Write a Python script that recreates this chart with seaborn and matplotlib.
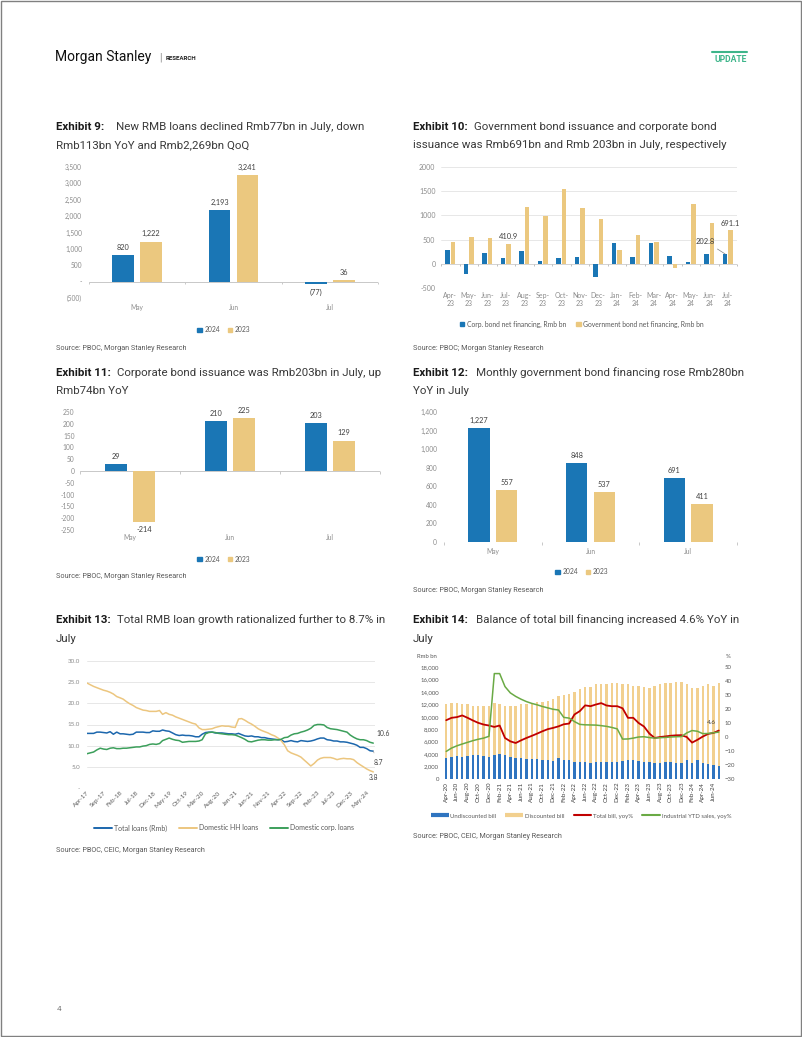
import numpy as np
import pandas as pd
import matplotlib
matplotlib.use("Agg")
import matplotlib.pyplot as plt
from matplotlib.patches import Patch, Rectangle
from matplotlib.lines import Line2D
import seaborn as sns

W, H = 802, 1037

BLUE = "#1A76B5"
TAN = "#EBC87F"
BLUE_LINE = "#1C67AD"
TAN_LINE = "#ECC67F"
GREEN_LINE = "#3C9F5B"
BILL_BLUE = "#2F74C0"
BILL_TAN = "#F2D08F"
RED = "#C00000"
BILL_GREEN = "#6AAA45"
TICK = "#8C8C8C"
LABEL = "#404040"
SRC = "#595959"

CHART_FONT = ["Lato", "DejaVu Sans"]
TEXT_FONT = ["Roboto", "DejaVu Sans"]

# ---------------------------------------------------------------------------
# Data
# ---------------------------------------------------------------------------
loan_months = ["May", "Jun", "Jul"]
new_loans_2024 = [820, 2193, -77]
new_loans_2023 = [1222, 3241, 36]

bond_months = ["Apr-23", "May-23", "Jun-23", "Jul-23", "Aug-23", "Sep-23", "Oct-23", "Nov-23",
               "Dec-23", "Jan-24", "Feb-24", "Mar-24", "Apr-24", "May-24", "Jun-24", "Jul-24"]
corp_bond_net = [288, -214, 225, 129, 274, 65, 116, 137, -265, 425, 137, 425, 170, 29, 210, 202.8]
gov_bond_net = [445, 557, 537, 410.9, 1178, 986, 1550, 1144, 925, 288, 596, 459, -89, 1227, 848, 691.1]

corp_bond_2024 = [29, 210, 203]
corp_bond_2023 = [-214, 225, 129]

gov_bond_2024 = [1227, 848, 691]
gov_bond_2023 = [557, 537, 411]

# monthly, Apr-17 .. Jul-24
total_loans_yoy = [
    12.9, 12.9, 12.9, 13.2, 13.2, 13.1, 13.0, 13.3, 12.7,
    13.2, 12.8, 12.8, 12.7, 12.6, 12.7, 13.2, 13.2, 13.2, 13.1, 13.1, 13.5,
    13.4, 13.4, 13.7, 13.5, 13.4, 13.0, 12.6, 12.4, 12.5, 12.4, 12.4, 12.3,
    12.1, 12.1, 12.7, 13.1, 13.2, 13.2, 13.0, 13.0, 13.0, 12.9, 12.8, 12.8,
    12.7, 12.9, 12.6, 12.3, 12.2, 12.3, 12.1, 12.1, 11.9, 11.9, 11.7, 11.6,
    11.5, 11.4, 11.4, 10.9, 11.0, 11.2, 11.0, 10.9, 11.2, 11.1, 11.0, 11.1,
    11.3, 11.6, 11.8, 11.8, 11.4, 11.3, 11.1, 11.1, 10.9, 10.9, 10.8, 10.6,
    10.4, 10.1, 9.6, 9.6, 9.3, 8.8, 8.7,
]
hh_loans_yoy = [
    24.8, 24.4, 24.0, 23.7, 23.4, 23.1, 22.9, 22.6, 22.2,
    21.6, 21.3, 21.0, 20.4, 19.9, 19.5, 19.0, 18.7, 18.4, 18.3, 18.1, 18.1,
    18.1, 18.3, 17.4, 17.8, 17.4, 17.2, 16.8, 16.5, 16.2, 15.9, 15.6, 15.3,
    15.1, 14.2, 13.8, 13.8, 13.9, 14.0, 14.3, 14.5, 14.7, 14.6, 14.6, 14.4,
    14.3, 16.3, 16.4, 16.0, 15.5, 15.1, 14.6, 14.0, 13.6, 13.3, 13.0, 12.6,
    12.3, 11.8, 11.2, 10.2, 8.8, 8.3, 8.0, 7.7, 7.3, 6.6, 5.9, 5.2,
    5.8, 6.6, 7.0, 7.2, 7.2, 7.2, 7.0, 6.7, 6.9, 7.0, 6.9, 6.9,
    6.7, 6.0, 5.5, 5.0, 4.5, 4.1, 3.8,
]
corp_loans_yoy = [
    8.1, 8.3, 8.5, 9.0, 9.4, 9.2, 9.1, 9.4, 9.5,
    9.3, 9.3, 9.4, 9.4, 9.5, 9.6, 9.7, 9.7, 9.9, 10.0, 10.3, 10.4,
    10.3, 10.5, 11.2, 11.5, 11.8, 11.5, 11.3, 11.2, 10.8, 10.9, 11.0, 11.0,
    11.0, 11.1, 11.4, 12.8, 13.1, 13.2, 13.1, 12.9, 12.8, 12.7, 12.6, 12.6,
    12.5, 12.2, 11.9, 11.5, 11.0, 10.9, 11.1, 11.3, 11.4, 11.4, 11.3, 11.3,
    11.4, 11.4, 11.5, 11.9, 12.0, 12.5, 12.8, 12.9, 13.2, 13.4, 13.7, 14.1,
    14.8, 15.0, 15.0, 14.9, 14.3, 14.0, 13.9, 13.8, 13.6, 13.4, 13.2, 12.5,
    12.0, 11.6, 11.4, 11.4, 11.2, 10.8, 10.6,
]

# monthly, Apr-20 .. Jul-24
bill_total = [
    12000, 12200, 12200, 12000, 12000, 11800, 11700, 11700, 11800, 12200,
    12100, 11700, 11700, 11800, 12000, 12000, 12200, 12400, 12400, 12600,
    12800, 13400, 13500, 13700, 14000, 14500, 14800, 14800, 15200, 15200,
    15200, 15400, 15400, 15300, 15200, 14900, 14900, 14800, 14700, 14900,
    15300, 15400, 15500, 15600, 15600, 15200, 14600, 14700, 15000, 15200,
    15000, 15400,
]
bill_undiscounted = [
    3400, 3500, 3700, 3600, 3700, 3800, 3800, 3700, 3500, 3900,
    4000, 3800, 3600, 3400, 3400, 3200, 3200, 3200, 3100, 3000,
    2900, 3400, 3000, 3000, 2800, 2700, 2800, 2500, 2800, 2800,
    2700, 2700, 2700, 2900, 3000, 3000, 2900, 2800, 2700, 2500,
    2600, 2800, 2700, 2600, 2500, 3000, 2600, 3000, 2500, 2400,
    2200, 2100,
]
total_bill_yoy = [
    12.0, 13.7, 14.2, 15.4, 13.7, 11.8, 10.1, 8.9, 8.2, 7.2,
    8.2, -0.7, -3.1, -4.3, -2.4, -0.7, 0.8, 2.4, 4.1, 5.6,
    6.5, 7.6, 9.1, 9.6, 16.1, 18.5, 22.6, 22.0, 23.2, 24.2,
    22.5, 22.0, 22.0, 20.5, 13.7, 13.7, 10.0, 7.5, 2.5, -0.7,
    0.0, 0.4, 0.9, 1.2, 1.3, 0.0, -4.0, -2.0, 0.3, 2.2,
    2.9, 4.6,
]
industrial_sales_yoy = [
    -10.3, -7.9, -6.3, -5.0, -3.8, -2.6, -1.6, -0.8, 0.5, 45.3,
    45.3, 36.0, 31.5, 29.0, 27.0, 25.3, 24.0, 23.0, 21.8, 20.8,
    19.8, 19.3, 14.0, 13.5, 11.0, 9.0, 8.7, 8.6, 8.5, 8.1,
    7.6, 6.8, 5.8, -1.5, -1.4, -0.8, 0.0, 0.2, -0.4, -0.8,
    -0.5, -0.3, 0.0, 0.2, 0.3, 2.9, 4.6, 4.1, 2.4, 2.5,
    3.0, 3.5,
]

growth_dates = pd.date_range("2017-04-01", periods=len(total_loans_yoy), freq="MS")
bill_months = pd.date_range("2020-04-01", periods=len(bill_total), freq="MS").strftime("%b-%y").tolist()

# ---------------------------------------------------------------------------
# Helpers
# ---------------------------------------------------------------------------
sns.set_theme(style="white")
plt.rcParams["font.family"] = CHART_FONT

fig = plt.figure(figsize=(W / 100, H / 100), dpi=100)
fig.patch.set_facecolor("white")


def axes_at(left, top, right, bottom):
    return fig.add_axes([left / W, 1 - bottom / H, (right - left) / W, (bottom - top) / H])


def put(x, y, s, **kw):
    kw.setdefault("va", "center")
    kw.setdefault("family", TEXT_FONT)
    fig.text(x / W, 1 - y / H, s, **kw)


def exhibit(x, y, num, line1, line2, x1):
    put(x, y, f"Exhibit {num}:", fontsize=8.25, fontweight="bold", color="#1A1A1A")
    put(x1, y, line1, fontsize=8.25, color="#3A3A3A")
    put(x, y + 18.5, line2, fontsize=8.25, color="#3A3A3A")


def source(x, y, s):
    put(x, y, s, fontsize=5.2, color=SRC)


def acct(v):
    if v == 0:
        return "-"
    return f"({abs(v):,.0f})" if v < 0 else f"{v:,.0f}"


def clean(ax, size=4.8, color=TICK):
    for sp in ax.spines.values():
        sp.set_visible(False)
    ax.tick_params(length=0, colors=color, labelsize=size)
    ax.set_xlabel("")
    ax.set_ylabel("")


def baseline(ax, n, tick_px=2.5, color="#C8C8C8"):
    lo, hi = ax.get_ylim()
    frac = (0 - lo) / (hi - lo)
    ax.axhline(0, color=color, lw=0.7, zorder=0.5)
    h = ax.get_position().height * H
    ax.vlines(np.arange(n + 1) - 0.5, frac - tick_px / h, frac,
              transform=ax.get_xaxis_transform(), color=color, lw=0.7, clip_on=False)


def grouped(ax, cats, a, b, colors, width, gap):
    df = pd.DataFrame({"cat": list(cats) * 2,
                       "value": list(a) + list(b),
                       "series": ["A"] * len(cats) + ["B"] * len(cats)})
    sns.barplot(data=df, x="cat", y="value", hue="series", palette=colors, saturation=1,
                width=width, gap=gap, errorbar=None, legend=False, linewidth=0, ax=ax)


def legend_at(handles, labels, cx, cy, ncol, size, **kw):
    fig.legend(handles, labels, loc="center", bbox_to_anchor=(cx / W, 1 - cy / H), ncol=ncol,
               frameon=False, prop={"size": size, "family": CHART_FONT}, labelcolor="#595959", **kw)


def year_legend(cx, cy):
    legend_at([Patch(color=BLUE), Patch(color=TAN)], ["2024", "2023"], cx, cy, 2, 4.9,
              handlelength=0.6, handleheight=0.6, handletextpad=0.4, columnspacing=1.2)


# ---------------------------------------------------------------------------
# Page furniture
# ---------------------------------------------------------------------------
fig.add_artist(Rectangle((0.6 / W, 0.6 / H), (W - 1.6) / W, (H - 1.6) / H, transform=fig.transFigure,
                         fill=False, edgecolor="#808080", lw=1.0))
put(55, 57, "Morgan Stanley", fontsize=10, color="#111111")
put(159, 58, "|", fontsize=7, color="#888888")
put(166, 58, "RESEARCH", fontsize=4.4, fontweight="bold", color="#222222")
put(747, 59, "UPDATE", fontsize=6.2, fontweight="bold", color="#3DB58A", ha="right")
fig.add_artist(Line2D([712 / W, 747 / W], [1 - 52 / H, 1 - 52 / H], transform=fig.transFigure,
                      color="#3DB58A", lw=1.5))
put(57, 1009, "4", fontsize=6, color="#808080")

# ---------------------------------------------------------------------------
# Exhibit 9: new RMB loans
# ---------------------------------------------------------------------------
exhibit(56, 126.5, 9, "New RMB loans declined Rmb77bn in July, down",
        "Rmb113bn YoY and Rmb2,269bn QoQ", 116)
ax9 = axes_at(89, 167, 378, 298)
grouped(ax9, loan_months, new_loans_2024, new_loans_2023, [BLUE, TAN], 0.58, 0.22)
ax9.set_ylim(-500, 3500)
ax9.set_xlim(-0.5, 2.5)
yt = np.arange(-500, 3501, 500)
ax9.set_yticks(yt, [acct(v) for v in yt])
clean(ax9)
ax9.tick_params(axis="y", pad=5)
ax9.tick_params(axis="x", pad=4)
baseline(ax9, 3)
for cont, vals in zip(ax9.containers, (new_loans_2024, new_loans_2023)):
    ax9.bar_label(cont, labels=[acct(v) for v in vals], padding=3, fontsize=5.3, color=LABEL)
year_legend(224, 330)
source(56, 348, "Source: PBOC, Morgan Stanley Research")

# ---------------------------------------------------------------------------
# Exhibit 10: bond net financing
# ---------------------------------------------------------------------------
exhibit(413, 126.5, 10, "Government bond issuance and corporate bond",
        "issuance was Rmb691bn and Rmb 203bn in July, respectively", 474)
ax10 = axes_at(441, 167, 737, 288)
grouped(ax10, bond_months, corp_bond_net, gov_bond_net, [BLUE, TAN], 0.56, 0.15)
ax10.set_ylim(-500, 2000)
ax10.set_xlim(-0.5, len(bond_months) - 0.5)
yt = np.arange(-500, 2001, 500)
ax10.set_yticks(yt, [str(v) for v in yt])
ax10.grid(axis="y", color="#DDDDDD", lw=0.5)
ax10.set_axisbelow(True)
ax10.set_xticks(range(len(bond_months)), [m.replace("-", "-\n") for m in bond_months])
clean(ax10, size=5.0)
for t in ax10.get_xticklabels():
    t.set_linespacing(1.15)
ax10.tick_params(axis="y", pad=4)
ax10.tick_params(axis="x", pad=3)
baseline(ax10, len(bond_months), color="#BFBFBF")
gov_labels = ["" for _ in gov_bond_net]
gov_labels[3] = f"{gov_bond_net[3]:.1f}"
gov_labels[-1] = f"{gov_bond_net[-1]:.1f}"
ax10.bar_label(ax10.containers[1], labels=gov_labels, padding=2.5, fontsize=5.4, color=LABEL)
last_corp = ax10.containers[0].patches[-1]
ax10.annotate(f"{corp_bond_net[-1]:.1f}",
              xy=(last_corp.get_x() + last_corp.get_width() / 2, last_corp.get_height()),
              xytext=(-14, 9), textcoords="offset points", ha="center", va="center",
              fontsize=5.4, color=LABEL,
              arrowprops=dict(arrowstyle="-", color="#808080", lw=0.5, shrinkA=1, shrinkB=0))
legend_at([Patch(color=BLUE), Patch(color=TAN)],
          ["Corp. bond net financing, Rmb bn", "Government bond net financing, Rmb bn"],
          582, 324, 2, 4.9, handlelength=0.6, handleheight=0.6, handletextpad=0.4, columnspacing=1.5)
source(413, 348, "Source: PBOC; Morgan Stanley Research")

# ---------------------------------------------------------------------------
# Exhibit 11: corporate bond issuance
# ---------------------------------------------------------------------------
exhibit(56, 372.5, 11, "Corporate bond issuance was Rmb203bn in July, up", "Rmb74bn YoY", 117)
ax11 = axes_at(80, 412, 380, 530)
grouped(ax11, loan_months, corp_bond_2024, corp_bond_2023, [BLUE, TAN], 0.56, 0.22)
ax11.set_ylim(-250, 250)
ax11.set_xlim(-0.5, 2.5)
yt = np.arange(-250, 251, 50)
ax11.set_yticks(yt, [str(v) for v in yt])
clean(ax11)
ax11.tick_params(axis="y", pad=4)
ax11.tick_params(axis="x", pad=3)
baseline(ax11, 3)
for cont, vals in zip(ax11.containers, (corp_bond_2024, corp_bond_2023)):
    ax11.bar_label(cont, labels=[str(v) for v in vals], padding=3, fontsize=5.3, color=LABEL)
year_legend(224, 559)
source(56, 577, "Source: PBOC, Morgan Stanley Research")

# ---------------------------------------------------------------------------
# Exhibit 12: government bond financing
# ---------------------------------------------------------------------------
exhibit(413, 372.5, 12, "Monthly government bond financing rose Rmb280bn", "YoY in July", 476)
ax12 = axes_at(444, 412, 737, 542)
grouped(ax12, loan_months, gov_bond_2024, gov_bond_2023, [BLUE, TAN], 0.56, 0.22)
ax12.set_ylim(0, 1400)
ax12.set_xlim(-0.5, 2.5)
yt = np.arange(0, 1401, 200)
ax12.set_yticks(yt, [f"{v:,}" for v in yt])
clean(ax12)
ax12.tick_params(axis="y", pad=5)
ax12.tick_params(axis="x", pad=4)
baseline(ax12, 3)
for cont, vals in zip(ax12.containers, (gov_bond_2024, gov_bond_2023)):
    ax12.bar_label(cont, labels=[f"{v:,}" for v in vals], padding=3, fontsize=5.3, color=LABEL)
year_legend(582, 572)
source(413, 591, "Source: PBOC, Morgan Stanley Research")

# ---------------------------------------------------------------------------
# Exhibit 13: loan growth
# ---------------------------------------------------------------------------
exhibit(56, 620, 13, "Total RMB loan growth rationalized further to 8.7% in", "July", 117)
ax13 = axes_at(87, 661, 375, 788)
series13 = {"Total loans (Rmb)": (total_loans_yoy, BLUE_LINE),
            "Domestic HH loans": (hh_loans_yoy, TAN_LINE),
            "Domestic corp. loans": (corp_loans_yoy, GREEN_LINE)}
df13 = pd.concat([pd.DataFrame({"date": growth_dates, "value": vals, "series": name})
                  for name, (vals, _) in series13.items()])
sns.lineplot(data=df13, x="date", y="value", hue="series",
             palette={k: c for k, (_, c) in series13.items()}, linewidth=1.1, legend=False, ax=ax13)
ax13.set_ylim(0, 30)
yt = np.arange(0, 31, 5)
ax13.set_yticks(yt, ["-" if v == 0 else f"{v:.1f}" for v in yt])
ax13.grid(axis="y", color="#E3E3E3", lw=0.6)
ax13.set_axisbelow(True)
ticks13 = growth_dates[::5]
ax13.set_xticks(ticks13, ticks13.strftime("%b-%y"))
ax13.set_xlim(growth_dates[0], growth_dates[-1] + pd.Timedelta(days=16))
clean(ax13, size=4.5)
ax13.tick_params(axis="y", pad=5)
ax13.tick_params(axis="x", pad=1.5, labelsize=4.6, colors="#595959")
for t in ax13.get_xticklabels():
    t.set_rotation(45)
    t.set_ha("right")
    t.set_rotation_mode("anchor")
end = growth_dates[-1]
ax13.annotate(f"{corp_loans_yoy[-1]:.1f}", xy=(end, corp_loans_yoy[-1]), xytext=(2.5, 7),
              textcoords="offset points", ha="left", va="center", fontsize=4.9, color=LABEL)
ax13.annotate(f"{total_loans_yoy[-1]:.1f}", xy=(end, total_loans_yoy[-1]), xytext=(3.5, -8),
              textcoords="offset points", ha="center", va="center", fontsize=4.9, color=LABEL,
              arrowprops=dict(arrowstyle="-", color="#A0A0A0", lw=0.5, shrinkA=2, shrinkB=0))
ax13.annotate(f"{hh_loans_yoy[-1]:.1f}", xy=(end, hh_loans_yoy[-1]), xytext=(0, -4),
              textcoords="offset points", ha="center", va="center", fontsize=4.9, color=LABEL)
legend_at([Line2D([], [], color=c, lw=1.4) for _, c in series13.values()], list(series13.keys()),
          224, 828, 3, 5.0, handlelength=2.6, handletextpad=0.3, columnspacing=1.7)
source(56, 851, "Source: PBOC, CEIC, Morgan Stanley Research")

# ---------------------------------------------------------------------------
# Exhibit 14: bill financing
# ---------------------------------------------------------------------------
exhibit(413, 620, 14, "Balance of total bill financing increased 4.6% YoY in", "July", 476)
ax14 = axes_at(443, 667, 722, 779)
pos14 = np.arange(len(bill_total))
sns.barplot(x=pos14, y=bill_total, native_scale=True, color=BILL_TAN, saturation=1,
            width=0.45, linewidth=0, ax=ax14)
sns.barplot(x=pos14, y=bill_undiscounted, native_scale=True, color=BILL_BLUE, saturation=1,
            width=0.45, linewidth=0, ax=ax14)
ax14.set_ylim(0, 18000)
yt = np.arange(0, 18001, 2000)
ax14.set_yticks(yt, [f"{v:,}" for v in yt])
ax14b = ax14.twinx()
sns.lineplot(x=pos14, y=total_bill_yoy, color=RED, linewidth=1.3, ax=ax14b)
sns.lineplot(x=pos14, y=industrial_sales_yoy, color=BILL_GREEN, linewidth=1.1, ax=ax14b)
ax14b.set_ylim(-30, 50)
ax14b.set_yticks(np.arange(-30, 51, 10))
ax14.set_xlim(-0.6, len(bill_total) - 0.4)
ax14.set_xticks(pos14[::2], bill_months[::2])
clean(ax14, size=4.3, color="#595959")
clean(ax14b, size=4.3, color="#595959")
ax14.tick_params(axis="y", pad=3)
ax14b.tick_params(axis="y", pad=2)
ax14.tick_params(axis="x", pad=2, labelsize=4.5, colors="#404040", labelrotation=90)
ax14b.annotate(f"{total_bill_yoy[-1]:.1f}", xy=(pos14[-1], total_bill_yoy[-1]), xytext=(-5, 5.5),
               textcoords="offset points", ha="center", va="center", fontsize=4.6, color=LABEL)
put(417, 657, "Rmb bn", fontsize=4.3, color="#595959", family=CHART_FONT)
put(726, 657, "%", fontsize=4.3, color="#595959", family=CHART_FONT)
legend_at([Line2D([], [], color=BILL_BLUE, lw=3, solid_capstyle="butt"),
           Line2D([], [], color=BILL_TAN, lw=3, solid_capstyle="butt"),
           Line2D([], [], color=RED, lw=1.5),
           Line2D([], [], color=BILL_GREEN, lw=1.5)],
          ["Undiscounted bill", "Discounted bill", "Total bill, yoy%", "Industrial YTD sales, yoy%"],
          581, 816, 4, 4.3, handlelength=3.0, handletextpad=0.3, columnspacing=1.5)
source(413, 837, "Source: PBOC, CEIC, Morgan Stanley Research")

fig.savefig("out.png", dpi=100, facecolor="white")
